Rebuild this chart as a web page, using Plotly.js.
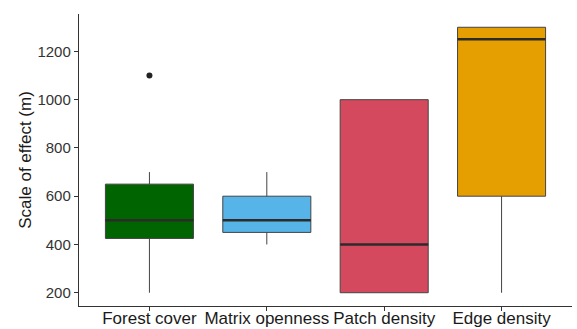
<!DOCTYPE html>
<html>
<head>
<meta charset="utf-8">
<script src="https://cdn.plot.ly/plotly-3.0.1.min.js"></script>
<style>html,body{margin:0;padding:0;background:#fff;}#chart{width:577px;height:329px;}</style>
</head>
<body>
<div id="chart"></div>
<script>
var categories = ["Forest cover", "Matrix openness", "Patch density", "Edge density"];
var lowerWhisker = [200, 400, 200, 200];
var q1Values = [425, 450, 200, 600];
var medianValues = [500, 500, 400, 1250];
var q3Values = [650, 600, 1000, 1300];
var upperWhisker = [700, 700, 1000, 1300];
var fillColors = ["#006400", "#56B4E9", "#D4495E", "#E69F00"];
var outlierCats = ["Forest cover"];
var outlierValues = [1100];
var yTicks = [200, 400, 600, 800, 1000, 1200];

var boxWidth = 0.75;
var traces = categories.map(function (c, i) {
  return {
    type: "box",
    x: [c],
    q1: [q1Values[i]],
    median: [medianValues[i]],
    q3: [q3Values[i]],
    lowerfence: [lowerWhisker[i]],
    upperfence: [upperWhisker[i]],
    width: boxWidth,
    whiskerwidth: 0,
    fillcolor: fillColors[i],
    line: { color: "#444", width: 1 },
    boxpoints: false,
    hoverinfo: "skip",
    showlegend: false
  };
});
traces.push({
  type: "scatter",
  mode: "markers",
  x: outlierCats,
  y: outlierValues,
  marker: { color: "#222", size: 6 },
  showlegend: false,
  hoverinfo: "skip"
});

var shapes = categories.map(function (c, i) {
  return {
    type: "line", xref: "x", yref: "y",
    x0: i - boxWidth / 2, x1: i + boxWidth / 2,
    y0: medianValues[i], y1: medianValues[i],
    line: { color: "#2b2b2b", width: 2.5 }
  };
});

var layout = {
  width: 577, height: 329,
  margin: { l: 79, r: 5, t: 14, b: 23 },
  paper_bgcolor: "#fff", plot_bgcolor: "#fff",
  boxmode: "overlay",
  font: { family: "Liberation Sans, Arial, sans-serif", color: "#1a1a1a" },
  xaxis: {
    type: "category",
    categoryorder: "array", categoryarray: categories,
    range: [-0.6, 3.6],
    showgrid: false, zeroline: false,
    showline: true, linecolor: "#333", linewidth: 1.2,
    ticks: "outside", ticklen: 4, tickcolor: "#333", tickwidth: 1,
    ticklabelstandoff: -8,
    tickfont: { size: 17, color: "#1a1a1a" }
  },
  yaxis: {
    range: [145, 1355],
    tickvals: yTicks,
    showgrid: false, zeroline: false,
    showline: true, linecolor: "#333", linewidth: 1.2,
    ticks: "outside", ticklen: 4, tickcolor: "#333", tickwidth: 1,
    tickfont: { size: 15, color: "#333" },
    title: { text: "Scale of effect (m)", font: { size: 17, color: "#1a1a1a" }, standoff: 1 }
  },
  shapes: shapes
};

Plotly.newPlot("chart", traces, layout, { displayModeBar: false, staticPlot: true });
</script>
</body>
</html>
